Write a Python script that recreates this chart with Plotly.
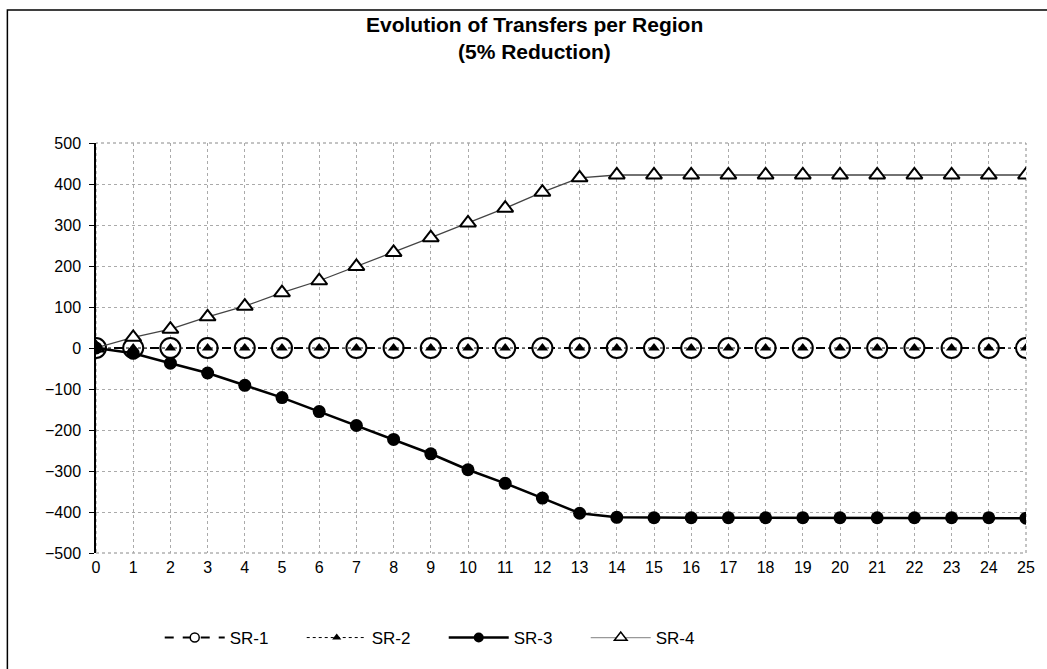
import plotly.graph_objects as go

# Periods and transfers per region
periods = list(range(26))
sr1 = [0, 0, 0, 0, 0, 0, 0, 0, 0, 0, 0, 0, 0, 0, 0, 0, 0, 0, 0, 0, 0, 0, 0, 0, 0, 0]
sr2 = [0, 0, 0, 0, 0, 0, 0, 0, 0, 0, 0, 0, 0, 0, 0, 0, 0, 0, 0, 0, 0, 0, 0, 0, 0, 0]
sr3 = [0, -13, -37, -61, -91, -121, -155, -189, -223, -258, -297, -330, -366, -403,
       -413, -414, -414, -414, -414, -414, -414, -414, -414, -414, -414, -415]
sr4 = [0, 26, 46, 76, 102, 135, 164, 199, 233, 269, 305, 341, 380, 415,
       422, 422, 422, 422, 422, 422, 422, 422, 422, 422, 422, 422]

FONT = "Liberation Sans, Arial, sans-serif"
W, H = 1047, 669
ML, MR, MT, MB = 96, 17, 143, 116
PW, PH = W - ML - MR, H - MT - MB

# per-series styles: (line, plot marker, legend marker)
styles = {
    "SR-1": (dict(color="black", width=2, dash="dash"),
             dict(symbol="circle", size=20, color="white", line=dict(color="black", width=2)),
             dict(symbol="circle", size=9, color="white", line=dict(color="black", width=1.5))),
    "SR-2": (dict(color="black", width=1, dash="dot"),
             dict(symbol="triangle-up", size=10, color="black"),
             dict(symbol="triangle-up", size=8, color="black")),
    "SR-3": (dict(color="black", width=2.5),
             dict(symbol="circle", size=13, color="black"),
             dict(symbol="circle", size=10, color="black")),
    "SR-4": (dict(color="#444444", width=1.3),
             dict(symbol="triangle-up", size=14, color="white", line=dict(color="black", width=2)),
             dict(symbol="triangle-up", size=11, color="white", line=dict(color="black", width=1.5))),
}
series = {"SR-1": sr1, "SR-2": sr2, "SR-3": sr3, "SR-4": sr4}

fig = go.Figure()

# data traces; SR-3 last so its filled dots sit on top
for name in ["SR-1", "SR-2", "SR-4", "SR-3"]:
    line, marker, _ = styles[name]
    fig.add_trace(go.Scatter(x=periods, y=series[name], name=name, mode="lines+markers",
                             line=line, marker=marker, showlegend=False))

# legend entries with compact symbols
for name in ["SR-1", "SR-2", "SR-3", "SR-4"]:
    line, _, lmarker = styles[name]
    lline = dict(line)
    if name == "SR-4":
        lline["color"] = "#999999"
    fig.add_trace(go.Scatter(x=[None], y=[None], name=name, mode="lines+markers",
                             line=lline, marker=lmarker, showlegend=True))

# plot-area border (dotted) and the outer chart frame
fig.add_shape(type="rect", xref="paper", yref="paper", x0=0, y0=0, x1=1, y1=1,
              line=dict(color="#888888", width=1, dash="dot"), layer="below")
fig.add_shape(type="rect", xref="paper", yref="paper",
              x0=(7 - ML) / PW, y0=-0.6, x1=1.2, y1=1 + (MT - 10) / PH,
              line=dict(color="black", width=1.5))

# two-line chart title
title_x = (536 - ML) / PW
for text, ypx in [("<b>Evolution of Transfers per Region</b>", 25),
                  ("<b>(5% Reduction)</b>", 51)]:
    fig.add_annotation(text=text, xref="paper", yref="paper",
                       x=title_x, y=1 + (MT - ypx) / PH,
                       xanchor="center", yanchor="middle", showarrow=False,
                       font=dict(family=FONT, size=21, color="black"))

fig.update_layout(
    width=W, height=H,
    margin=dict(l=ML, r=MR, t=MT, b=MB, pad=0),
    paper_bgcolor="white", plot_bgcolor="white",
    font=dict(family=FONT, color="black", size=14),
    legend=dict(
        orientation="h", x=(160 - ML) / PW, xanchor="left",
        y=(553 - 638) / PH, yanchor="middle",
        itemwidth=60, entrywidth=67, entrywidthmode="pixels",
        font=dict(family=FONT, size=17, color="black"),
        bgcolor="rgba(0,0,0,0)",
    ),
    showlegend=True,
)

fig.update_xaxes(
    range=[0, 25], tickmode="array", tickvals=periods,
    ticktext=[str(p) for p in periods],
    showgrid=True, gridcolor="#aaaaaa", griddash="dot", gridwidth=1,
    zeroline=False, showline=False, ticks="",
    ticklabelstandoff=3,
    tickfont=dict(family=FONT, size=16, color="black"),
)
fig.update_yaxes(
    range=[-500, 500], tickmode="array",
    tickvals=[-500, -400, -300, -200, -100, 0, 100, 200, 300, 400, 500],
    showgrid=True, gridcolor="#aaaaaa", griddash="dot", gridwidth=1,
    zeroline=False, showline=True, linecolor="black", linewidth=1.5,
    ticks="outside", ticklen=5, tickcolor="black",
    ticklabelstandoff=5,
    tickfont=dict(family=FONT, size=16, color="black"),
)

fig.write_html("out.html")
